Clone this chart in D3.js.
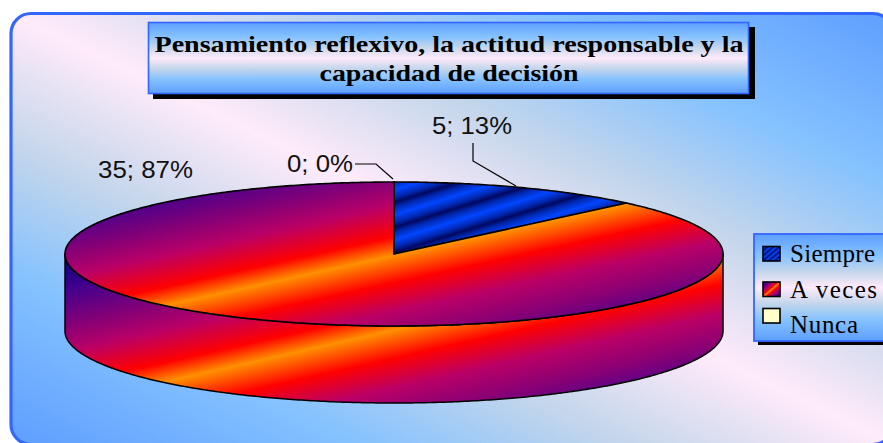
<!DOCTYPE html>
<html><head><meta charset="utf-8">
<script src="https://cdn.jsdelivr.net/npm/d3@7/dist/d3.min.js"></script>
<style>html,body{margin:0;padding:0;background:#fff;overflow:hidden}svg{display:block}</style>
</head><body><div id="chart"></div>
<script>
const categories = ["Siempre", "A veces", "Nunca"];
const values = [5, 35, 0];
const percents = [13, 87, 0];
const titleLines = ["Pensamiento reflexivo, la actitud responsable y la", "capacidad de decisión"];

const W = 883, H = 443;
const svg = d3.select("#chart").append("svg").attr("width", W).attr("height", H);
const defs = svg.append("defs");

function grad(id, attrs, stops) {
  const g = defs.append("linearGradient").attr("id", id);
  Object.entries(attrs).forEach(([k, v]) => g.attr(k, v));
  stops.forEach(([o, c]) => g.append("stop").attr("offset", o).attr("stop-color", c));
}
const daybreak = [[0,"#5E9EFF"],[.2,"#85C2FF"],[.35,"#C4D6EB"],[.5,"#FFEBFA"],[.65,"#C4D6EB"],[.8,"#85C2FF"],[1,"#5E9EFF"]];
const sunset = [[0,"#000082"],[.13,"#48008C"],[.25,"#8A0075"],[.33,"#BA0066"],[.44,"#FF0000"],[.505,"#FF9000"],[.6,"#FF0000"],[.7,"#BA0066"],[.8,"#8A0075"],[.9,"#48008C"],[1,"#000082"]];
grad("gBg", {x1:0,y1:1,x2:1,y2:0}, daybreak);
grad("gBox", {x1:0,y1:0,x2:0,y2:1}, daybreak);
grad("gSlice1", {x1:.055,y1:.055,x2:.229,y2:.229,spreadMethod:"repeat"}, [[0,"#0046FF"],[.3,"#0028B0"],[.5,"#000860"],[.7,"#0028B0"],[1,"#0046FF"]]);
grad("gSlice2", {x1:0,y1:0,x2:1,y2:1}, sunset);
const fills = ["url(#gSlice1)", "url(#gSlice2)", "#FFFFCC"];

// chart area
svg.append("rect").attr("x",16).attr("y",18).attr("width",882).attr("height",431).attr("rx",20).attr("fill","#000");
svg.append("rect").attr("x",11).attr("y",13.5).attr("width",882).attr("height",431).attr("rx",20)
  .attr("fill","url(#gBg)").attr("stroke","#3366FF").attr("stroke-width",3.2);

// title
svg.append("rect").attr("x",153).attr("y",27).attr("width",602).attr("height",72).attr("fill","#000");
svg.append("rect").attr("x",148.5).attr("y",22.5).attr("width",600).attr("height",71).attr("fill","url(#gBox)").attr("stroke","#3366FF").attr("stroke-width",1.6);
const titleBase = [52, 81], titleLen = [589, 259];
svg.selectAll("text.t").data(titleLines).join("text").attr("class","t")
  .attr("x",449).attr("y",(d,i)=>titleBase[i]).attr("text-anchor","middle")
  .attr("font-family","'Liberation Serif',serif").attr("font-weight","bold").attr("font-size",24)
  .attr("textLength",(d,i)=>titleLen[i]).attr("lengthAdjust","spacingAndGlyphs").attr("fill","#000").text(d=>d);

// pie
const x = d3.scaleLinear().domain([-1,1]).range([65,723]);
const y = d3.scaleLinear().domain([-1,1]).range([182,326]);
const depth = 77;
const pie = d3.pie().sort(null).startAngle(0).endAngle(2*Math.PI)(values);
const line = d3.line();
const pt = (a, dz=0) => [x(Math.sin(a)), y(-Math.cos(a)) + dz];
const arcPts = (a0, a1, dz=0) => {
  const n = Math.max(1, Math.ceil(Math.abs(a1-a0)/0.01));
  return d3.range(n+1).map(i => pt(a0+(a1-a0)*i/n, dz));
};
// side wall: visible front half only
pie.forEach((s,i) => {
  const a0 = Math.max(s.startAngle, Math.PI/2), a1 = Math.min(s.endAngle, 3*Math.PI/2);
  if (a1 <= a0) return;
  svg.append("path").attr("d", line([...arcPts(a0,a1), ...arcPts(a1,a0,depth)])+"Z")
    .attr("fill",fills[i]).attr("stroke","#000").attr("stroke-width",1.5).attr("stroke-linejoin","round");
});
// top faces
pie.forEach((s,i) => {
  svg.append("path").attr("d", line([[x(0),y(0)], ...arcPts(s.startAngle,s.endAngle)])+"Z")
    .attr("fill", s.value>0 ? fills[i] : "none").attr("stroke","#000").attr("stroke-width",1.6).attr("stroke-linejoin","round");
});

// data labels
const labelPos = [[472,134,80],[145.5,178,95],[320,172,66]];
svg.selectAll("text.l").data(values).join("text").attr("class","l")
  .attr("x",(d,i)=>labelPos[i][0]).attr("y",(d,i)=>labelPos[i][1]).attr("text-anchor","middle")
  .attr("font-family","'Liberation Sans',sans-serif").attr("font-size",24).attr("fill","#111")
  .attr("textLength",(d,i)=>labelPos[i][2]).attr("lengthAdjust","spacingAndGlyphs")
  .text((d,i)=>`${d}; ${percents[i]}%`);
const leaders = [[[473,143],[473,161],[516,186]],[[355,164],[376,164],[393,179]]];
leaders.forEach(p => svg.append("path").attr("d",line(p)).attr("fill","none").attr("stroke","#000").attr("stroke-width",1.2));

// legend
svg.append("rect").attr("x",758).attr("y",238).attr("width",140).attr("height",107).attr("fill","#000");
svg.append("rect").attr("x",754).attr("y",234).attr("width",140).attr("height",107).attr("fill","url(#gBox)").attr("stroke","#3366FF").attr("stroke-width",1.8);
const keyY = [246.5,282,308.5], textY = [262,298,333], textLen = [85,87,68];
categories.forEach((c,i) => {
  svg.append("rect").attr("x",763).attr("y",keyY[i]).attr("width",17).attr("height",14.5)
    .attr("fill",fills[i]).attr("stroke","#000").attr("stroke-width",1.6);
  svg.append("text").attr("x",790).attr("y",textY[i]).attr("font-family","'Liberation Serif',serif")
    .attr("font-size",25).attr("fill","#000").attr("textLength",textLen[i]).attr("lengthAdjust","spacing").text(c);
});
</script></body></html>
